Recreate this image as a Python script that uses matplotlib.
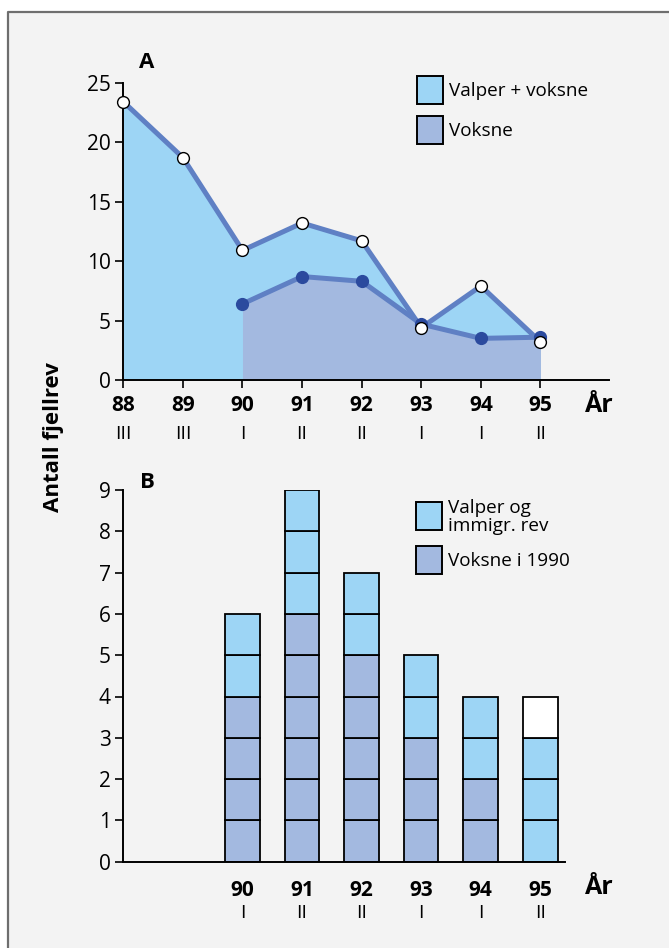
import matplotlib
matplotlib.use("Agg")
import matplotlib.pyplot as plt
from matplotlib.patches import Rectangle
from matplotlib.lines import Line2D

# Panel A: counts per year (spring census)
years_a = [88, 89, 90, 91, 92, 93, 94, 95]
season_a = ["III", "III", "I", "II", "II", "I", "I", "II"]
valper_voksne = [23.4, 18.7, 10.9, 13.2, 11.7, 4.4, 7.9, 3.2]
years_voksne = [90, 91, 92, 93, 94, 95]
voksne = [6.4, 8.7, 8.3, 4.7, 3.5, 3.6]

# Panel B: individual foxes stacked per year
years_b = [90, 91, 92, 93, 94, 95]
season_b = ["I", "II", "II", "I", "I", "II"]
voksne_1990 = [4, 6, 5, 3, 2, 0]
valper_immigr = [2, 3, 2, 2, 2, 3]
ukjent = [0, 0, 0, 0, 0, 1]

W, H = 669, 948
BG = "#f3f3f3"
LIGHT = "#9dd5f5"
MID = "#a3b9e0"
LINE = "#5f80c4"
DOT = "#2b4a9e"

plt.rcParams["font.family"] = ["Open Sans", "DejaVu Sans"]

fig = plt.figure(figsize=(W / 100, H / 100), dpi=100)
fig.patch.set_facecolor("white")


def fx(x):
    return x / W


def fy(y):
    return 1 - y / H


# grey panel with a frame on top and left
fig.add_artist(Rectangle((fx(7.5), 0), 1 - fx(7.5), fy(11.5), transform=fig.transFigure,
                         facecolor=BG, edgecolor="none", zorder=0))
fig.add_artist(Line2D([fx(7.5), fx(7.5), 1], [0, fy(11.5), fy(11.5)], transform=fig.transFigure,
                      color="#6e6e6e", lw=1.6, zorder=1))

ax_a = fig.add_axes([fx(123.3), fy(380), fx(609) - fx(123.3), fy(82.7) - fy(380)])
ax_b = fig.add_axes([fx(123.3), fy(861.7), fx(565) - fx(123.3), fy(490) - fy(861.7)])

for ax in (ax_a, ax_b):
    ax.set_facecolor("none")
    ax.spines["top"].set_visible(False)
    ax.spines["right"].set_visible(False)
    ax.spines["left"].set_linewidth(1.4)
    ax.spines["bottom"].set_linewidth(1.4)
    ax.tick_params(axis="y", length=6, width=1.2, pad=3, labelsize=15)
    ax.tick_params(axis="x", labelsize=15)

# --- panel A
ax_a.set_xlim(88, 96.15)
ax_a.set_ylim(0, 25)
ax_a.set_yticks([0, 5, 10, 15, 20, 25])
ax_a.fill_between(years_a, valper_voksne, color=LIGHT, lw=0, zorder=1)
ax_a.fill_between(years_voksne, voksne, color=MID, lw=0, zorder=2)
ax_a.plot(years_voksne, voksne, color=LINE, lw=3.6, zorder=3, solid_capstyle="round")
ax_a.plot(years_a, valper_voksne, color=LINE, lw=3.6, zorder=4, solid_capstyle="round",
          clip_on=False)
ax_a.plot(years_voksne, voksne, "o", color=DOT, ms=8.5, zorder=5)
ax_a.plot(years_a, valper_voksne, "o", mfc="white", mec="black", mew=1.0, ms=8.5, zorder=6,
          clip_on=False)
ax_a.set_xticks(years_a)
ax_a.set_xticklabels([str(y) for y in years_a], fontweight="bold")
ax_a.tick_params(axis="x", length=6, width=1.2, pad=5)
for y, s in zip(years_a, season_a):
    ax_a.annotate(s, (y, 0), xycoords=("data", "axes fraction"), xytext=(0, -39),
                  textcoords="offset points", ha="center", va="center", fontsize=14)
fig.text(fx(599), fy(405), "År", ha="center", va="center", fontsize=18, fontweight="bold")
fig.text(fx(147), fy(62), "A", ha="center", va="center", fontsize=16, fontweight="bold")

# --- panel B
ax_b.set_xlim(88, 95.415)
ax_b.set_ylim(0, 9)
ax_b.set_yticks(range(10))
bw = 0.58
for i, x in enumerate(years_b):
    level = 0
    for count, color in ((voksne_1990[i], MID), (valper_immigr[i], LIGHT), (ukjent[i], "white")):
        for _ in range(count):
            ax_b.bar(x, 1, bottom=level, width=bw, color=color, edgecolor="black", lw=1.3, zorder=2)
            level += 1
ax_b.set_xticks(years_b)
ax_b.set_xticklabels([str(y) for y in years_b], fontweight="bold")
ax_b.tick_params(axis="x", length=0, pad=13)
for y, s in zip(years_b, season_b):
    ax_b.annotate(s, (y, 0), xycoords=("data", "axes fraction"), xytext=(0, -37),
                  textcoords="offset points", ha="center", va="center", fontsize=14)
fig.text(fx(599), fy(887), "År", ha="center", va="center", fontsize=18, fontweight="bold")
fig.text(fx(147), fy(482), "B", ha="center", va="center", fontsize=16, fontweight="bold")


def legend_entry(x0, y0, color, label):
    fig.add_artist(Rectangle((fx(x0), fy(y0 + 28)), fx(26), 28 / H, transform=fig.transFigure,
                             facecolor=color, edgecolor="black", lw=1.4))
    fig.text(fx(x0 + 32), fy(y0 + 15), label, ha="left", va="center", fontsize=13.6,
             linespacing=0.95)


legend_entry(416.5, 76, LIGHT, "Valper + voksne")
legend_entry(416.5, 116, MID, "Voksne")
legend_entry(415.5, 502, LIGHT, "Valper og\nimmigr. rev")
legend_entry(415.5, 546, MID, "Voksne i 1990")

fig.text(fx(54), fy(437), "Antall fjellrev", rotation=90, ha="center", va="center",
         fontsize=16, fontweight="bold")

fig.savefig("out.png", dpi=100, facecolor=fig.get_facecolor())
